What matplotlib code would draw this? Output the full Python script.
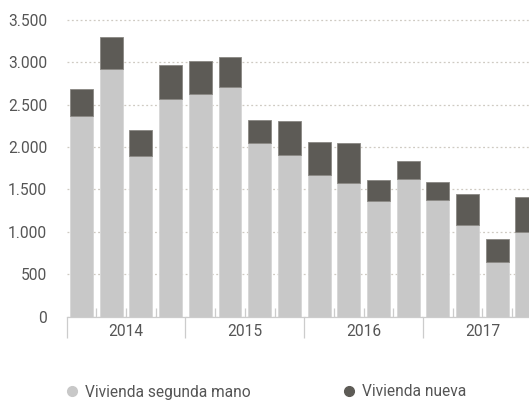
import numpy as np
import matplotlib
matplotlib.use("Agg")
from matplotlib import pyplot as plt
from matplotlib.lines import Line2D
from matplotlib.ticker import FuncFormatter, FixedLocator
import matplotlib.transforms as mtransforms

plt.rcParams["font.family"] = ["Roboto", "DejaVu Sans"]

# Quarterly data 2014-2017
years = ["2014", "2015", "2016", "2017"]
segunda_mano = [2365, 2920, 1890, 2570, 2620, 2710, 2045, 1905,
                1665, 1575, 1365, 1625, 1375, 1075, 650, 995]
nueva = [315, 370, 315, 400, 390, 355, 270, 400,
         390, 470, 240, 210, 210, 365, 265, 410]

light = "#c8c8c8"
dark = "#5d5b56"
txt = "#555555"
fs = 11.2

fig = plt.figure(figsize=(5.29, 4.01), dpi=100)
ax = fig.add_axes([66.7 / 529, 0.2102, 1 - 66.7 / 529, 0.762])

x = np.arange(len(segunda_mano))
ax.bar(x, segunda_mano, width=0.77, color=light, edgecolor="#d6d6d6",
       linewidth=0.6, zorder=2)
ax.bar(x, nueva, width=0.77, bottom=segunda_mano, color=dark,
       edgecolor="#8a8883", linewidth=0.6, zorder=2)

ax.set_xlim(-0.5, 15.07)
ax.set_ylim(0, 3600)

# y axis
ax.set_yticks(np.arange(0, 3501, 500))
ax.yaxis.set_major_formatter(FuncFormatter(lambda v, p: "{:,.0f}".format(v).replace(",", ".")))
ax.tick_params(axis="y", length=0, pad=14, labelsize=fs, labelcolor=txt)
ax.grid(axis="y", color="#cfcac2", linestyle=(0, (1.5, 2)), linewidth=0.9, zorder=0)

# x axis: separators between years and small ticks between bars
ax.xaxis.set_major_locator(FixedLocator([-0.5, 3.5, 7.5, 11.5]))
ax.xaxis.set_minor_locator(FixedLocator([b + 0.5 for b in range(15) if (b + 1) % 4 != 0]))
ax.tick_params(axis="x", which="major", direction="out", length=15, width=0.9,
               color="#cccccc", labelbottom=False)
ax.tick_params(axis="x", which="minor", direction="in", length=6.5, width=0.9,
               color="#cccccc")

trans = mtransforms.blended_transform_factory(ax.transData, ax.transAxes)
for i, yr in enumerate(years):
    ax.text(4 * i + 1.5, -0.049, yr, transform=trans, ha="center", va="center",
            fontsize=fs, color=txt)

for s in ["top", "right", "left"]:
    ax.spines[s].set_visible(False)
ax.spines["bottom"].set_color("#cccccc")
ax.spines["bottom"].set_linewidth(0.9)

handles = [Line2D([], [], marker="o", linestyle="none", markersize=7, color=light),
           Line2D([], [], marker="o", linestyle="none", markersize=7, color=dark)]
fig.legend(handles, ["Vivienda segunda mano", "Vivienda nueva"], ncol=2,
           loc="center left", bbox_to_anchor=(52 / 529, 1 - 392 / 401), frameon=False,
           fontsize=fs, labelcolor=txt, handletextpad=0.45, columnspacing=5.9,
           handlelength=0.8)

fig.savefig("out.png", dpi=100)
